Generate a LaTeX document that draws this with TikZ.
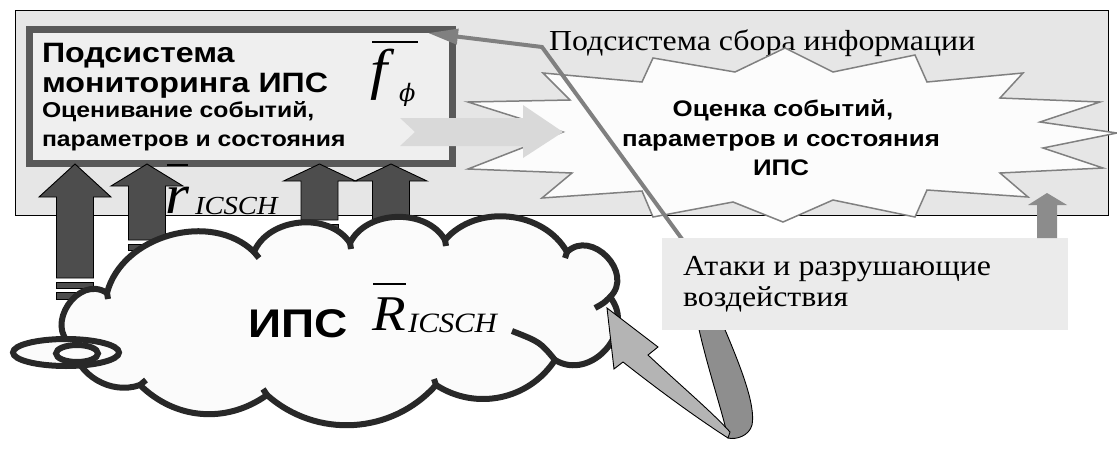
\documentclass[tikz,border=0pt]{standalone}
\usepackage{fontspec}
\setmainfont{Liberation Serif}
\newfontfamily\sansf{Liberation Sans}[FakeStretch=1.15]
\newfontfamily\seriff{Liberation Serif}[FakeStretch=1.1]
\newfontfamily\dvs{DejaVu Serif}
\usetikzlibrary{arrows.meta}
\definecolor{boxbg}{RGB}{230,230,230}
\definecolor{innerbg}{RGB}{239,239,239}
\definecolor{innerbd}{RGB}{89,89,89}
\definecolor{starfill}{RGB}{252,252,252}
\definecolor{starline}{RGB}{128,128,128}
\definecolor{cloudfill}{RGB}{251,251,251}
\definecolor{cloudline}{RGB}{40,40,40}
\definecolor{darkarr}{RGB}{77,77,77}
\definecolor{lightarr}{RGB}{217,217,217}
\definecolor{attackbg}{RGB}{235,235,235}
\definecolor{midgray}{RGB}{128,128,128}
\definecolor{smallarr}{RGB}{140,140,140}
\definecolor{loopdark}{RGB}{142,142,142}
\definecolor{looplight}{RGB}{180,180,180}
\newcommand\myuparrow[4]{% #1 cx, #2 tip y, #3 head base y, #4 shaft bottom y
  \draw[uparr] (#1,#2) -- (#1+36,#3) -- (#1+18.5,#3) -- (#1+18.5,#4) -- (#1-18.5,#4) -- (#1-18.5,#3) -- (#1-36,#3) -- cycle;
  \draw[uparr] (#1-18.5,#4+4) rectangle (#1+18.5,#4+10);
  \draw[uparr] (#1-18.5,#4+14) rectangle (#1+18.5,#4+21);
}
\begin{document}
\begin{tikzpicture}[x=1pt,y=-1pt,
  txt/.style={inner sep=0pt, outer sep=0pt, anchor=base west},
  bigsans/.style={font=\sansf\bfseries\fontsize{28}{30}\selectfont},
  midsans/.style={font=\sansf\bfseries\fontsize{21.5}{29}\selectfont},
  starsans/.style={font=\sansf\bfseries\fontsize{22.5}{29}\selectfont},
  sertxt/.style={font=\seriff\fontsize{29}{31}\selectfont},
  uparr/.style={fill=darkarr, draw=black, line width=0.9pt},
  starst/.style={fill=starfill, draw=starline, line width=1.5pt, line join=miter},
  cloudst/.style={fill=cloudfill, draw=cloudline, line width=6pt, line join=round, line cap=round},
  tailst/.style={draw=cloudline, line width=6pt, line cap=butt},
  gline/.style={draw=midgray, line width=4pt, -{Triangle[length=30pt,width=15pt]}},
  ovl/.style={line width=1.8pt}]
\useasboundingbox (0,0) rectangle (1117,450);

% outer box
\node[name=outer, draw=black, fill=boxbg, line width=1.2pt, minimum width=1093pt, minimum height=205pt, inner sep=0pt, anchor=north west] at (15,10) {};
\node[txt, font=\seriff\fontsize{29}{31}\selectfont] (sbor) at (549,50) {Подсистема сбора информации};

% starburst
\draw[starst] (543,73) -- (642,82) -- (653,58) -- (735,72) -- (785,48) -- (833,72) -- (915,55) -- (927,82) -- (1023,73) -- (1000,98) -- (1100,102) -- (1040,122) -- (1117,133) -- (1043,148) -- (1103,168) -- (1000,173) -- (1028,197) -- (927,190) -- (915,217) -- (833,200) -- (783,222) -- (733,202) -- (653,217) -- (642,191) -- (542,198) -- (572,173) -- (468,169) -- (563,132) -- (468,102) -- (570,100) -- cycle;
\node[starsans, inner sep=0pt, anchor=base] (st1) at (783,116) {Оценка событий,};
\node[starsans, inner sep=0pt, anchor=base] (st2) at (781,146) {параметров и состояния};
\node[starsans, inner sep=0pt, anchor=base] (st3) at (781,175) {ИПС};

% inner monitoring box
\node[name=mon, draw=innerbd, fill=innerbg, line width=7pt, minimum width=423pt, minimum height=134pt, inner sep=0pt, anchor=north west] at (25.5,25.5) {};
\node[txt, bigsans] (m1) at (42,62) {Подсистема};
\node[txt, bigsans] (m2) at (42,92) {мониторинга ИПС};
\node[txt, midsans] (m3) at (42,117) {Оценивание событий,};
\node[txt, midsans] (m4) at (42,146) {параметров и состояния};
\node[txt, font=\seriff\itshape\fontsize{56}{56}\selectfont] (fsym) at (370,88) {f};
\node[txt, font=\dvs\itshape\fontsize{24}{24}\selectfont] (phisym) at (399,101) {ϕ};
\draw[ovl] (372,42) -- (418,42);

% light notched arrow
\draw[fill=lightarr, draw=none] (400,118) -- (523,118) -- (523,105) -- (563,132) -- (523,158) -- (523,146) -- (400,146) -- (415,132) -- cycle;

% dark up arrows
\myuparrow{75}{164}{197}{278}
\myuparrow{147}{164}{186}{240}
\myuparrow{319.5}{164}{181}{220}
\myuparrow{391}{164}{181}{220}
\node[txt, font=\seriff\itshape\fontsize{56}{56}\selectfont] (rsym) at (165,213) {r};
\node[txt, font=\seriff\itshape\fontsize{26}{26}\selectfont] (rsub) at (195,214) {ICSCH};
\draw[ovl] (167,165) -- (188,165);

% cloud
\path[cloudst] (107,293) to[bend left=60] (254,252) to[bend left=62] (350,243) to[bend left=62] (445,240) to[bend left=55] (567,252) to[bend left=90, looseness=1.4] (610,297) to[bend left=80, looseness=1.3] (555,360) to[bend left=45] (436,385) to[bend left=45] (267,395) to[bend left=40] (140,385) to[bend left=50] (72,345) to[bend left=90, looseness=1.4] (107,293) -- cycle;
\draw[tailst] (254,252) -- (259,258);
\draw[tailst] (350,243) -- (351,249);
\draw[tailst] (445,240) -- (446,246);
\draw[tailst] (567,252) -- (565,258);
\draw[tailst] (610,297) .. controls (604,303) .. (595,308);
\draw[tailst] (555,360) .. controls (540,342) .. (512,331);
\draw[tailst] (436,385) -- (434,379);
\draw[tailst] (267,395) -- (263,389);
\draw[tailst] (140,385) -- (146,380);
\draw[tailst] (107,293) -- (108,299);
\draw[draw=cloudline, line width=6pt, fill=cloudfill] (66,352.5) ellipse[x radius=53, y radius=13.5];
\draw[draw=cloudline, line width=6pt, fill=cloudfill] (77,353.5) ellipse[x radius=21, y radius=8.5];
\node[txt, font=\sansf\bfseries\fontsize{40}{40}\selectfont] (ips) at (248,337) {ИПС};
\node[txt, font=\seriff\itshape\fontsize{50}{50}\selectfont] (Rsym) at (372,330) {R};
\node[txt, font=\seriff\itshape\fontsize{28}{28}\selectfont] (Rsub) at (408,332) {ICSCH};
\draw[ovl] (373,284) -- (406,284);

% gray connector line
\coordinate (gA) at (690,250);
\coordinate (gB) at (542,47);
\coordinate (gC) at (428,33);
\draw[gline] (gA) -- (gB) -- (gC);

% loop arrow
\draw[fill=loopdark, draw=black, line width=0.9pt] (698,325) -- (723,325) .. controls (740,365) and (756,405) .. (752,425) .. controls (749,436) and (736,440) .. (728,438) .. controls (722,410) and (708,370) .. (698,325) -- cycle;
\draw[fill=looplight, draw=black, line width=0.9pt] (728,438) .. controls (700,420) and (665,395) .. (623,362) -- (614,369) -- (607,308) -- (658,347) -- (648,355) .. controls (680,385) and (712,412) .. (730,432) -- cycle;

% attack box
\node[name=atk, fill=attackbg, minimum width=406pt, minimum height=92pt, inner sep=0pt, anchor=north west] at (662,238) {};
\node[txt, sertxt] (a1) at (683,275) {Атаки и разрушающие};
\node[txt, sertxt] (a2) at (683,306) {воздействия};

% small gray arrow
\draw[fill=smallarr, draw=none] (1047,193) -- (1067,205) -- (1057,205) -- (1057,238) -- (1037,238) -- (1037,205) -- (1028,205) -- cycle;
\end{tikzpicture}
\end{document}
